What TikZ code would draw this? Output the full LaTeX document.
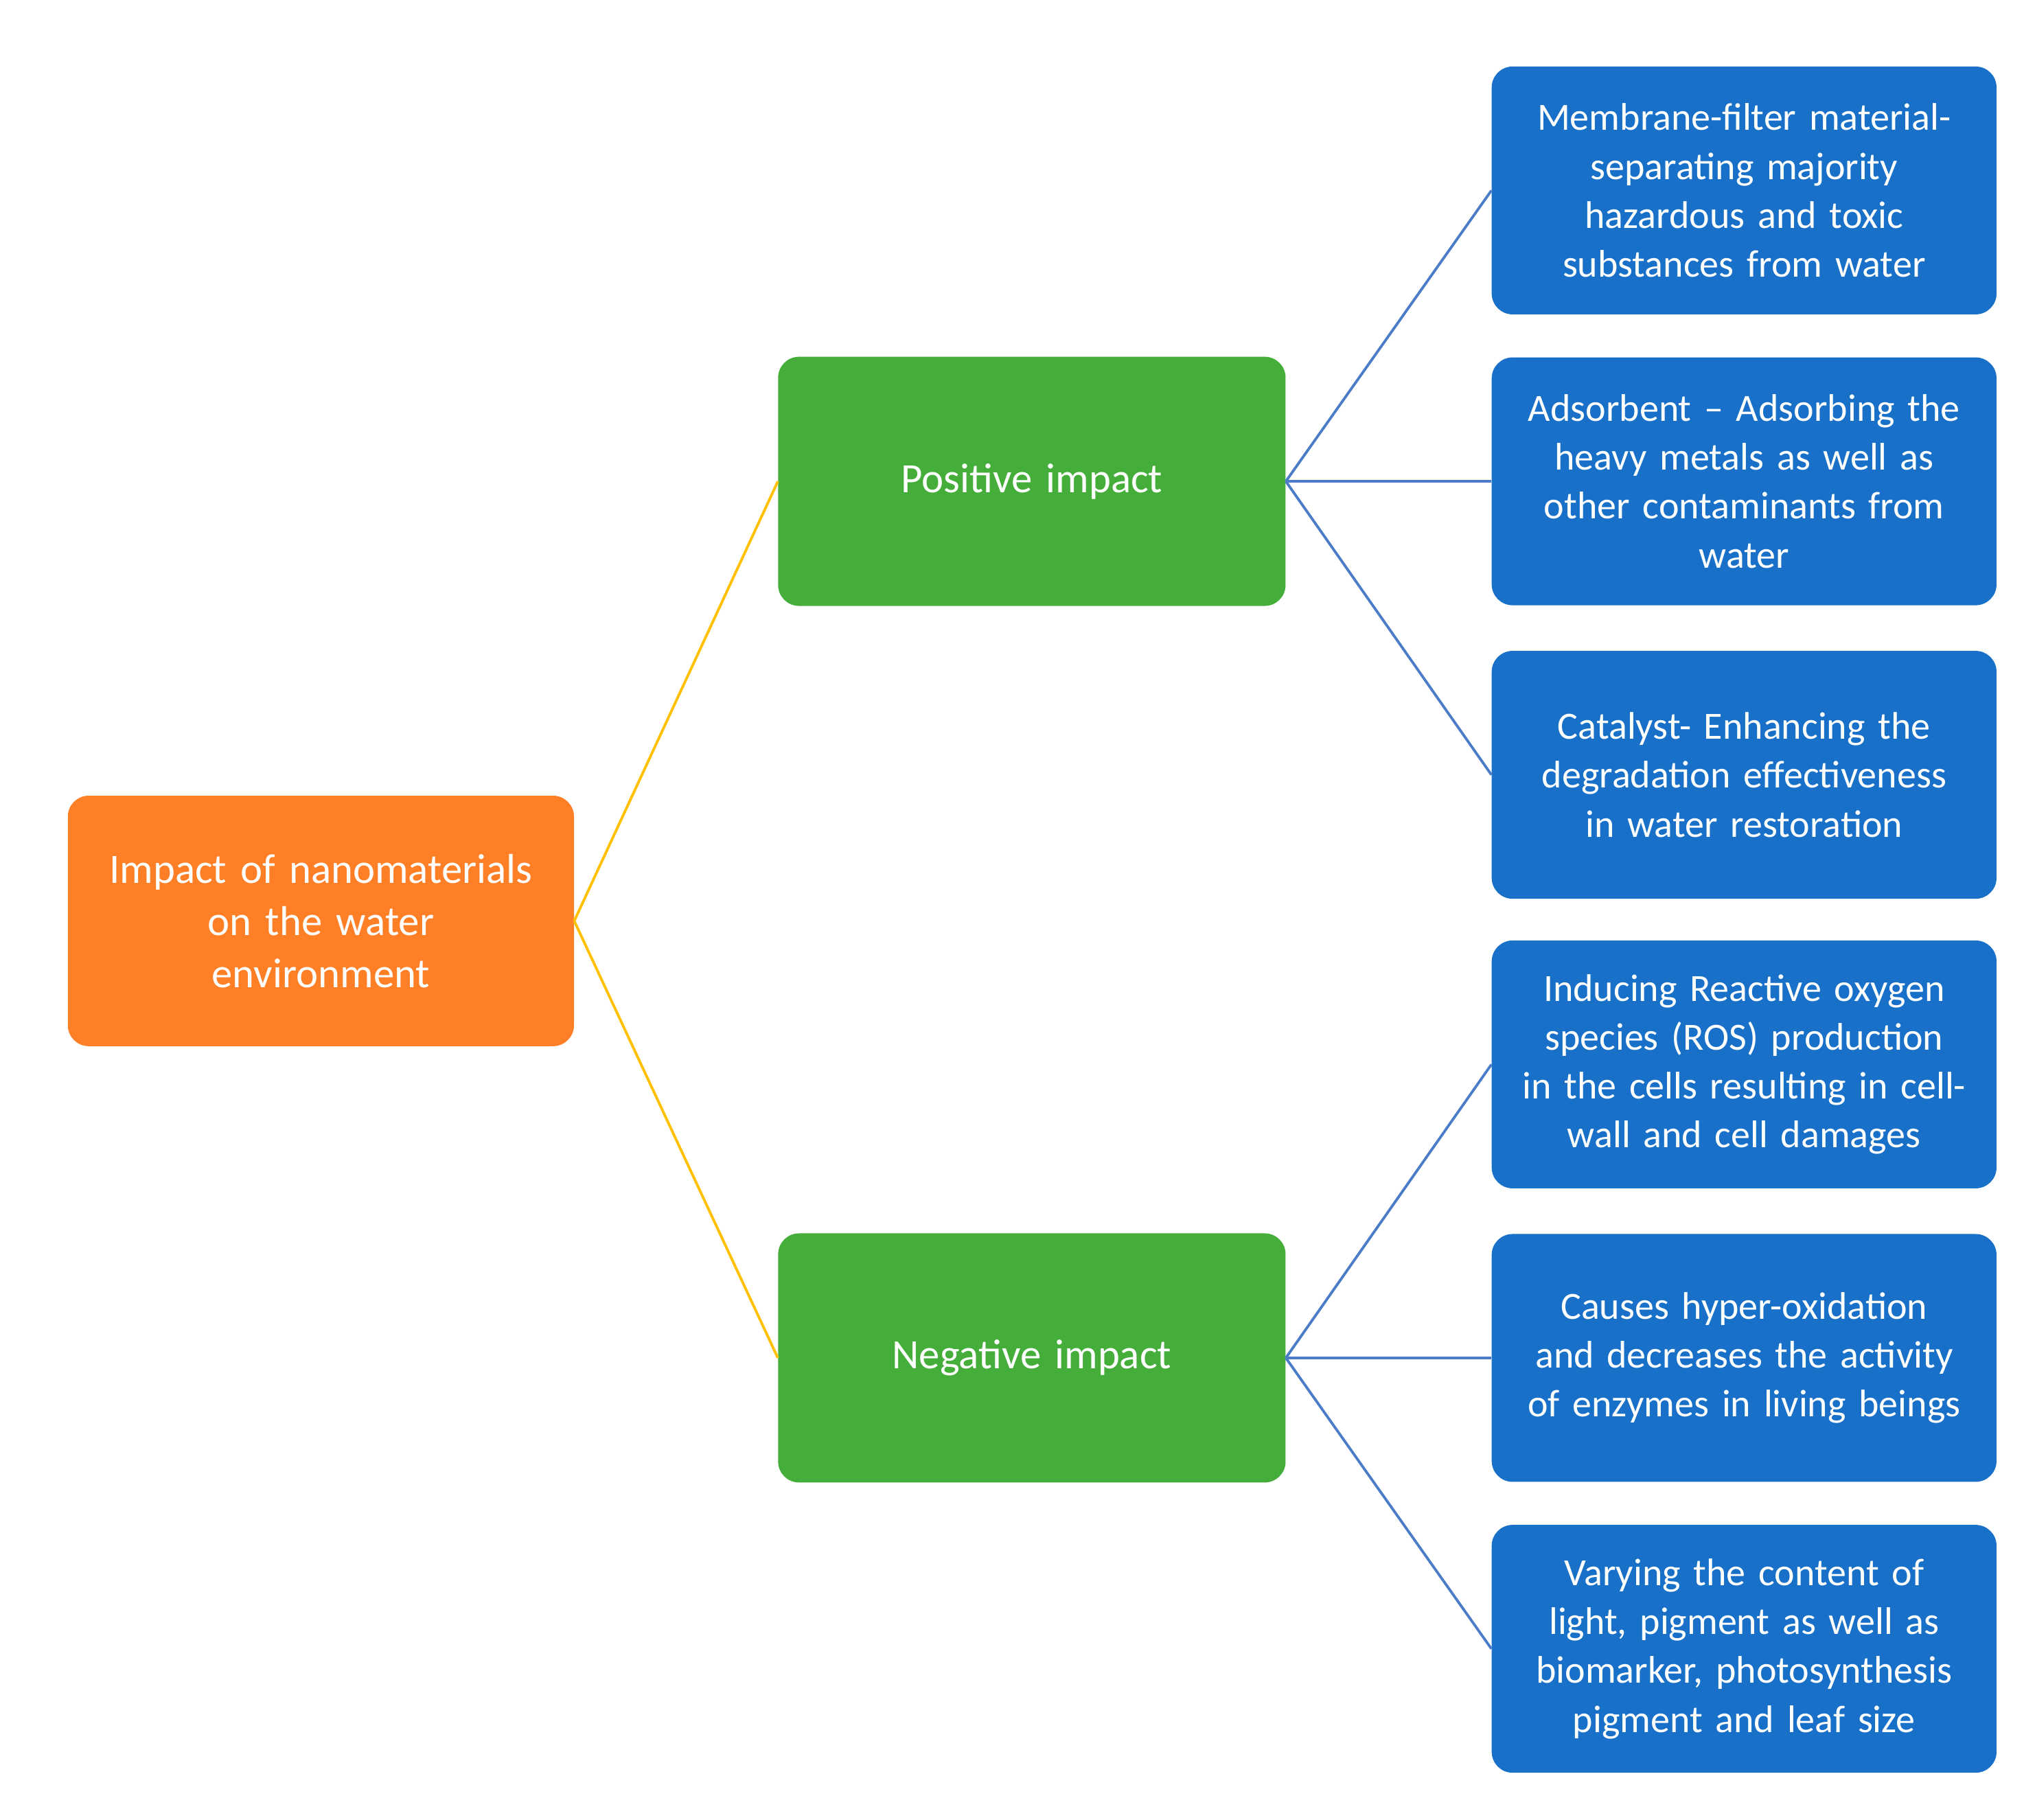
\documentclass[tikz,border=0pt]{standalone}
\usepackage{fontspec}
\setmainfont{Carlito}
\definecolor{orng}{HTML}{FF7F27}
\definecolor{grn}{HTML}{45AE3B}
\definecolor{blu}{HTML}{1870C8}
\definecolor{yl}{HTML}{FFC000}
\definecolor{ln}{HTML}{4A7CC8}
\begin{document}
\begin{tikzpicture}[x=1pt,y=-1pt,
 box/.style={rounded corners=16pt,text=white,align=center,inner sep=0pt},
 root/.style={box,fill=orng,minimum width=388pt,minimum height=192pt,text width=380pt,font=\fontsize{32}{40}\selectfont},
 mid/.style={box,fill=grn,minimum width=389pt,minimum height=191pt,text width=380pt,font=\fontsize{32}{40}\selectfont},
 leaf/.style={box,fill=blu,minimum width=387pt,minimum height=190pt,text width=380pt,font=\fontsize{29.5}{37.5}\selectfont},
 yline/.style={yl,line width=2pt},
 bline/.style={ln,line width=2pt}]
\useasboundingbox (0,0) rectangle (1560,1395);
\node[root] (r) at (246,706) {Impact of nanomaterials\\on the water\\environment};
\node[mid] (p) at (791,369) {Positive impact};
\node[mid] (n) at (791,1041) {Negative impact};
\node[leaf] (b1) at (1337,146) {Membrane-filter material-\\separating majority\\hazardous and toxic\\substances from water};
\node[leaf] (b2) at (1337,369) {Adsorbent -- Adsorbing the\\heavy metals as well as\\other contaminants from\\water};
\node[leaf] (b3) at (1337,594) {Catalyst- Enhancing the\\degradation effectiveness\\in water restoration};
\node[leaf] (b4) at (1337,816) {Inducing Reactive oxygen\\species (ROS) production\\in the cells resulting in cell-\\wall and cell damages};
\node[leaf] (b5) at (1337,1041) {Causes hyper-oxidation\\and decreases the activity\\of enzymes in living beings};
\node[leaf] (b6) at (1337,1264) {Varying the content of\\light, pigment as well as\\biomarker, photosynthesis\\pigment and leaf size};
\draw[yline] (r.east) -- (p.west);
\draw[yline] (r.east) -- (n.west);
\foreach \b in {b1,b2,b3} \draw[bline] (p.east) -- (\b.west);
\foreach \b in {b4,b5,b6} \draw[bline] (n.east) -- (\b.west);
\end{tikzpicture}
\end{document}
